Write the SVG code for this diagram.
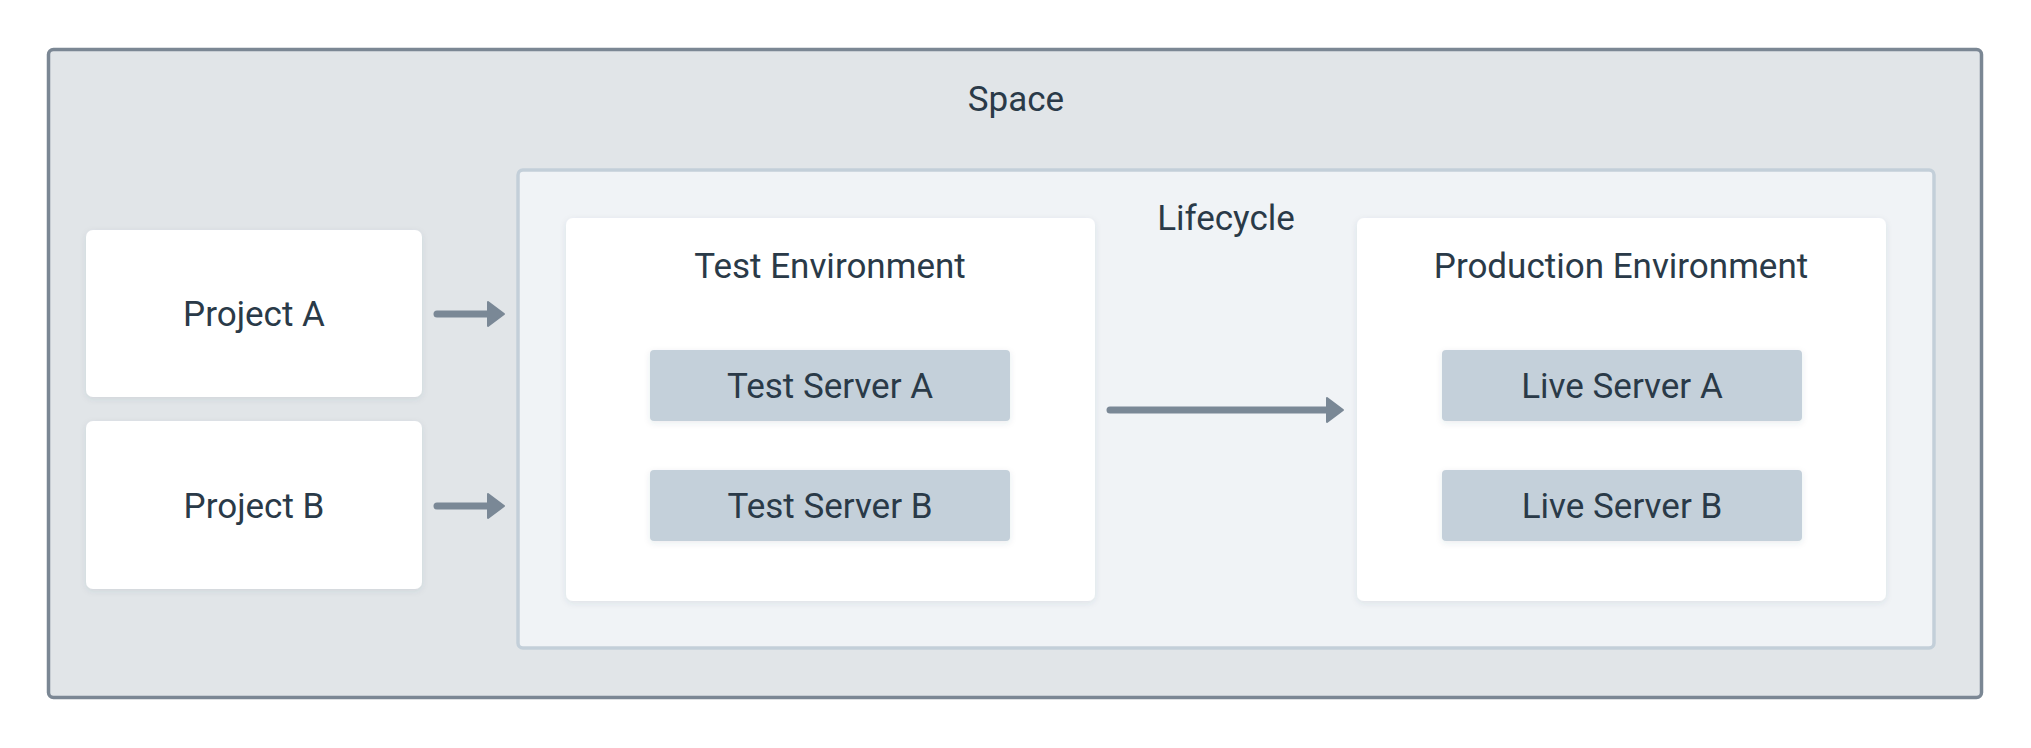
<svg xmlns="http://www.w3.org/2000/svg" width="2031" height="748" viewBox="0 0 2031 748">
  <defs>
    <style>
      .lbl { font-family: Roboto, "Liberation Sans", sans-serif; font-size: 35px; fill: #2a3a48; text-anchor: middle; }
      .outer { fill: #e1e5e8; stroke: #7b8794; stroke-width: 3.5; }
      .life { fill: #f0f3f6; stroke: #c3cfd9; stroke-width: 3.5; }
      .card { fill: #ffffff; }
      .srv { fill: #c4d0da; }
      .conn { stroke: #7a8896; stroke-width: 7; stroke-linecap: round; fill: none; }
    </style>
    <filter id="sh" x="-10%" y="-10%" width="120%" height="130%">
      <feDropShadow dx="0" dy="2" stdDeviation="3" flood-color="#3a4a58" flood-opacity="0.1"/>
    </filter>
    <marker id="ah" markerUnits="userSpaceOnUse" markerWidth="22" markerHeight="30" refX="5" refY="13" orient="auto" overflow="visible">
      <path d="M1,1 L17,13 L1,25 Z" fill="#7a8896" stroke="#7a8896" stroke-width="2" stroke-linejoin="round"/>
    </marker>
  </defs>

  <g id="space">
    <rect class="outer" x="48.5" y="49.5" width="1933" height="648" rx="5"/>
    <text class="lbl" x="1016" y="111">Space</text>
  </g>

  <g id="lifecycle">
    <rect class="life" x="518" y="170" width="1416" height="478" rx="5"/>
    <text class="lbl" x="1226" y="230">Lifecycle</text>
  </g>

  <g id="project-a">
    <rect class="card" x="86" y="230" width="336" height="167" rx="7" filter="url(#sh)"/>
    <text class="lbl" x="254" y="326">Project A</text>
  </g>

  <g id="project-b">
    <rect class="card" x="86" y="421" width="336" height="168" rx="7" filter="url(#sh)"/>
    <text class="lbl" x="254" y="518">Project B</text>
  </g>

  <g id="test-env">
    <rect class="card" x="566" y="218" width="529" height="383" rx="7" filter="url(#sh)"/>
    <text class="lbl" x="830" y="278">Test Environment</text>
  </g>

  <g id="test-server-a">
    <rect class="srv" x="650" y="350" width="360" height="71" rx="4" filter="url(#sh)"/>
    <text class="lbl" x="830" y="398">Test Server A</text>
  </g>

  <g id="test-server-b">
    <rect class="srv" x="650" y="470" width="360" height="71" rx="4" filter="url(#sh)"/>
    <text class="lbl" x="830" y="518">Test Server B</text>
  </g>

  <g id="prod-env">
    <rect class="card" x="1357" y="218" width="529" height="383" rx="7" filter="url(#sh)"/>
    <text class="lbl" x="1621" y="278">Production Environment</text>
  </g>

  <g id="live-server-a">
    <rect class="srv" x="1442" y="350" width="360" height="71" rx="4" filter="url(#sh)"/>
    <text class="lbl" x="1622" y="398">Live Server A</text>
  </g>

  <g id="live-server-b">
    <rect class="srv" x="1442" y="470" width="360" height="71" rx="4" filter="url(#sh)"/>
    <text class="lbl" x="1622" y="518">Live Server B</text>
  </g>

  <g id="connectors">
    <line class="conn" x1="437" y1="314" x2="492" y2="314" marker-end="url(#ah)"/>
    <line class="conn" x1="437" y1="506" x2="492" y2="506" marker-end="url(#ah)"/>
    <line class="conn" x1="1110" y1="410" x2="1331" y2="410" marker-end="url(#ah)"/>
  </g>
</svg>
